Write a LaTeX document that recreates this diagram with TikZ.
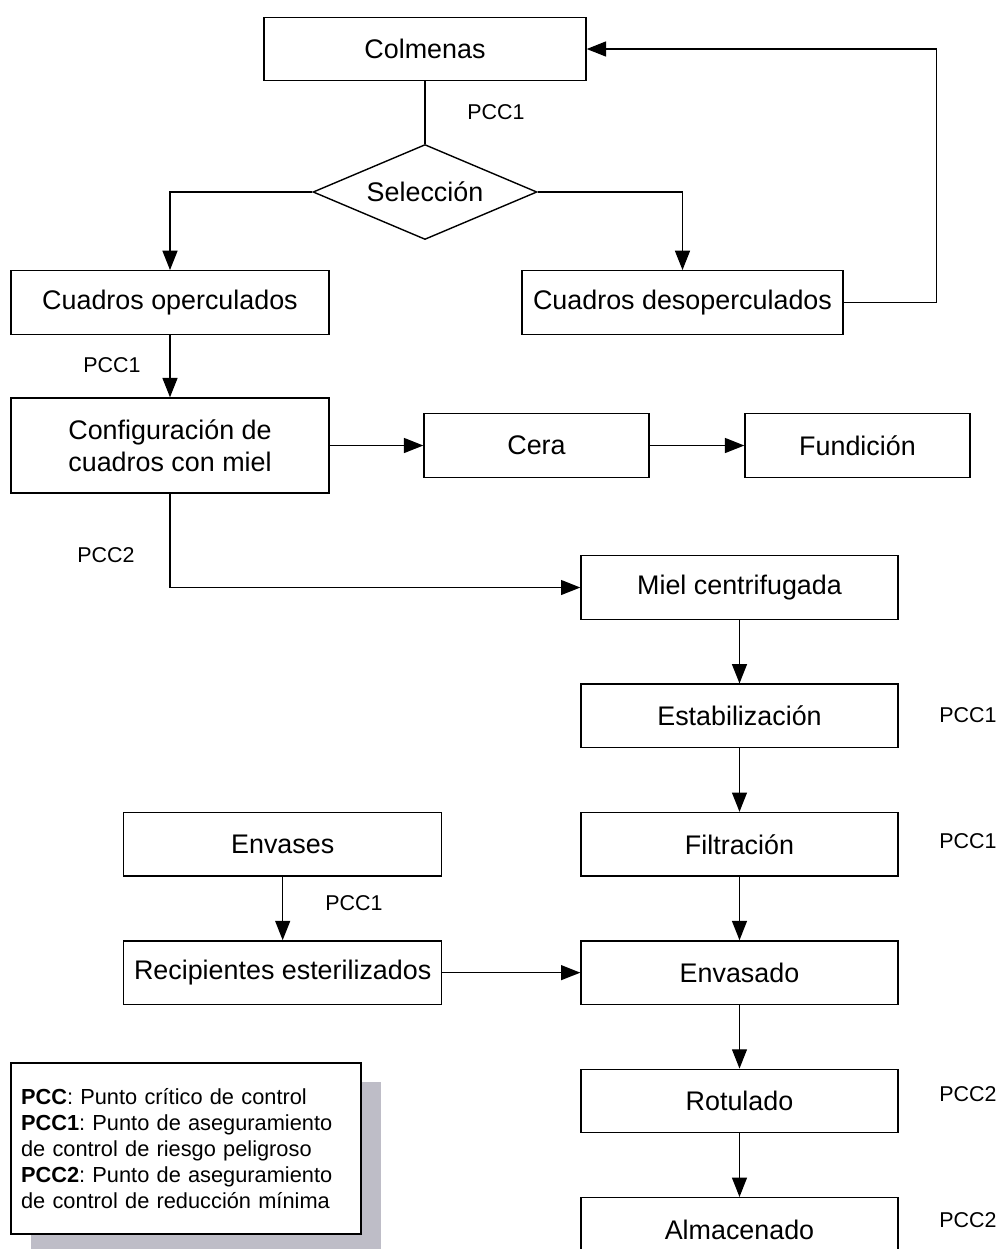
\documentclass[tikz,border=0pt]{standalone}
\usepackage{fontspec}
\setmainfont{Liberation Sans}
\usepackage{tikz}
\usetikzlibrary{arrows.meta,positioning,shapes.geometric,shadows}
\definecolor{hgrey}{HTML}{BEBDC7}
\frenchspacing

\begin{document}
\begin{tikzpicture}[x=0.02cm, y=-0.02cm, node distance=1.27cm,
  font=\fontsize{15.3}{18.1}\selectfont,
  proc/.style={draw, line width=0.8pt, align=center, inner sep=2pt,
    minimum width=6.36cm, minimum height=1.27cm},
  procs/.style={proc, minimum width=4.5cm},
  dec/.style={draw, line width=0.8pt, diamond, aspect=2.36, inner sep=0pt,
    minimum width=4.48cm, minimum height=1.9cm},
  ar/.style={-{Triangle[length=11pt,width=8.5pt]}, line width=0.8pt},
  ln/.style={line width=0.8pt},
  pcc/.style={font=\fontsize{12.2}{14.6}\selectfont},
  nota/.style={draw, line width=0.8pt, fill=white, align=left,
    text width=6.6cm, inner xsep=0.2cm, minimum height=3.42cm,
    font=\fontsize{12.4}{14.9}\selectfont,
    drop shadow={shadow xshift=0.4cm, shadow yshift=-0.38cm, fill=hgrey, opacity=1}}]
  \useasboundingbox (0,0) rectangle (1000,1249);

  % seleccion de cuadros
  \node[proc, minimum width=6.44cm] (colm) at (425,49) {Colmenas};
  \node[dec] (sel) at (425,192) {Selección};
  \node[proc] (oper) at (170,302.5) {Cuadros operculados};
  \node[proc, minimum width=6.42cm] (desop) at (682.5,302.5) {Cuadros desoperculados};
  \node[proc, minimum height=1.9cm] (conf) at (170,445.5) {Configuración de\\cuadros con miel};
  \node[procs] (cera) at (536.5,445.5) {Cera};
  \node[procs] (fund) at (857.5,445.5) {Fundición};

  % linea de la miel
  \node[proc, minimum width=6.34cm] (miel) at (739.5,587.5) {Miel centrifugada};
  \node[proc, minimum width=6.34cm, below=of miel] (estab) {Estabilización};
  \node[proc, minimum width=6.34cm, below=of estab] (filtr) {Filtración};
  \node[proc, minimum width=6.34cm, below=of filtr] (envas) {Envasado};
  \node[proc, minimum width=6.34cm, below=of envas] (rotul) {Rotulado};
  \node[proc, minimum width=6.34cm, below=of rotul] (almac) {Almacenado};
  \node[proc, left=2.76cm of filtr] (envases) {Envases};
  \node[proc, below=of envases] (recip) {Recipientes esterilizados};

  \draw[ln] (colm) -- (sel);
  \draw[ar] (sel.west) -| (oper.north);
  \draw[ar] (sel.east) -| (desop.north);
  \draw[ar] (desop.east) -- ++(93,0) |- (colm.east);
  \draw[ar] (oper) -- (conf);
  \draw[ar] (conf) -- (cera);
  \draw[ar] (cera) -- (fund);
  \draw[ar] (conf.south) |- (miel.west);
  \foreach \a/\b in {miel/estab,estab/filtr,filtr/envas,envas/rotul,rotul/almac}
    \draw[ar] (\a) -- (\b);
  \draw[ar] (envases) -- (recip);
  \draw[ar] (recip) -- (envas);

  % puntos criticos
  \node[pcc] (p1) at (496,112) {PCC1};
  \node[pcc] (p2) at (112,365) {PCC1};
  \node[pcc] (p3) at (106,555) {PCC2};
  \node[pcc] (p4) at (968,715) {PCC1};
  \node[pcc] (p5) at (968,841) {PCC1};
  \node[pcc] (p6) at (354,903) {PCC1};
  \node[pcc] (p7) at (968,1094) {PCC2};
  \node[pcc] (p8) at (968,1220) {PCC2};

  \node[nota] (leyenda) at (186,1148.5) {\textbf{PCC}: Punto crítico de control\\
    \textbf{PCC1}: Punto de aseguramiento\\de control de riesgo peligroso\\
    \textbf{PCC2}: Punto de aseguramiento\\de control de reducción mínima};
\end{tikzpicture}
\end{document}
